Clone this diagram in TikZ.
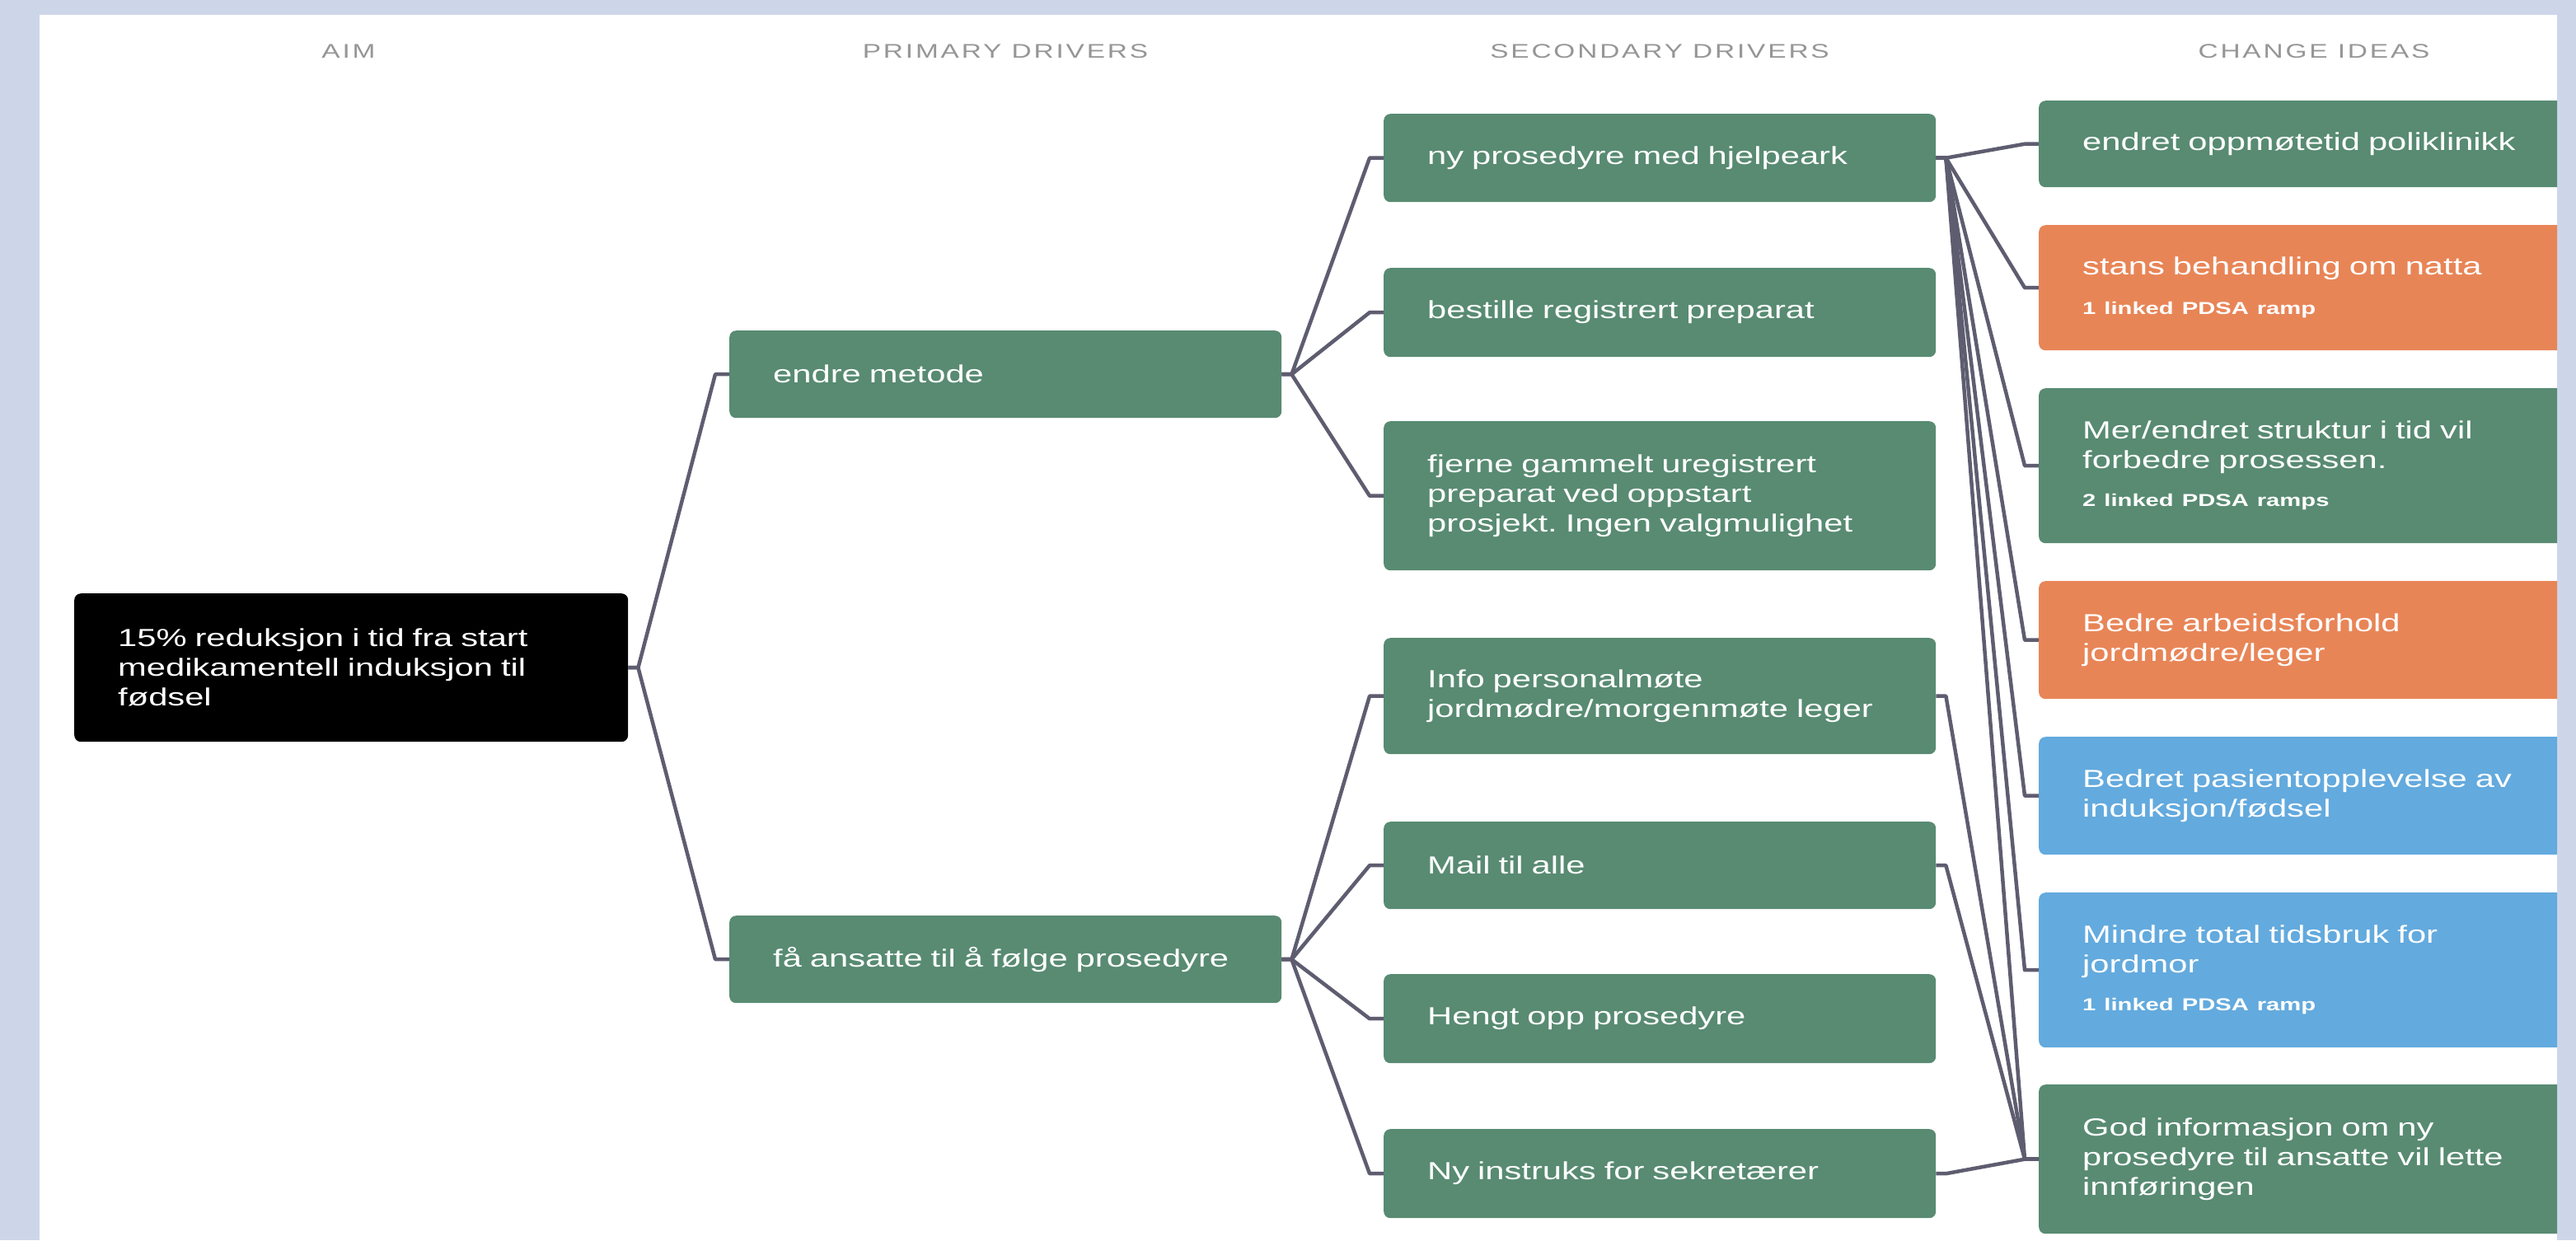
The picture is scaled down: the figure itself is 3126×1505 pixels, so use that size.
\documentclass[tikz,border=0pt]{standalone}
\usepackage{fontspec}
\setmainfont{Liberation Sans}[FakeStretch=1.39]
\newfontfamily\hdrfont{Liberation Sans}[FakeStretch=1.39,LetterSpace=12]
\definecolor{bgc}{RGB}{205,214,233}
\definecolor{grn}{RGB}{88,139,114}
\definecolor{org}{RGB}{232,133,87}
\definecolor{blu}{RGB}{99,170,222}
\definecolor{lin}{RGB}{94,93,112}
\definecolor{hdr}{RGB}{150,150,150}
\frenchspacing
\newcommand\mainsz{\fontsize{30}{36}\selectfont}
\newcommand\subsz{\fontsize{21}{25}\selectfont\bfseries}
\newcommand\hdrsz{\hdrfont\fontsize{24}{28}\selectfont}
\begin{document}
\begin{tikzpicture}[x=1pt,y=-1pt,
  box/.style={rounded corners=8pt, inner xsep=53pt, inner ysep=0pt,
    text width=564pt, minimum width=670pt, anchor=north west,
    align=left, text=white, font=\mainsz},
  gbox/.style={box, fill=grn},
  obox/.style={box, fill=org},
  bbox/.style={box, fill=blu},
  hdrtext/.style={anchor=base, text=hdr, font=\hdrsz, inner sep=0pt},
  conn/.style={draw=lin, line width=4.5pt, line join=round,
    to path={-- ++(12pt,0) -- ([xshift=-17pt]\tikztotarget.west) -- (\tikztotarget.west)}}
]
\useasboundingbox (0,0) rectangle (3126,1505);
\fill[bgc] (0,0) rectangle (3126,1505);
\fill[white] (48,18) rectangle (3103,1505);
\begin{scope}
\clip (48,18) rectangle (3103,1505);
% headers
\node[hdrtext] (h1) at (423,70) {AIM};
\node[hdrtext] (h2) at (1220,70) {PRIMARY DRIVERS};
\node[hdrtext] (h3) at (2014,70) {SECONDARY DRIVERS};
\node[hdrtext] (h4) at (2808,70) {CHANGE IDEAS};
% aim
\node[box, fill=black, minimum width=672pt, text width=566pt, minimum height=180pt] (aim) at (90,720)
  {15\% reduksjon i tid fra start\\medikamentell induksjon til\\fødsel};
% primary
\node[gbox, minimum height=106pt] (p1) at (885,401) {endre metode};
\node[gbox, minimum height=106pt] (p2) at (885,1111) {få ansatte til å følge prosedyre};
% secondary
\node[gbox, minimum height=107pt] (s1) at (1679,138) {ny prosedyre med hjelpeark};
\node[gbox, minimum height=108pt] (s2) at (1679,325) {bestille registrert preparat};
\node[gbox, minimum height=181pt] (s3) at (1679,511) {fjerne gammelt uregistrert\\preparat ved oppstart\\prosjekt. Ingen valgmulighet};
\node[gbox, minimum height=141pt] (s4) at (1679,774) {Info personalmøte\\jordmødre/morgenmøte leger};
\node[gbox, minimum height=106pt] (s5) at (1679,997) {Mail til alle};
\node[gbox, minimum height=108pt] (s6) at (1679,1182) {Hengt opp prosedyre};
\node[gbox, minimum height=108pt] (s7) at (1679,1370) {Ny instruks for sekretærer};
% change ideas
\node[gbox, minimum height=105pt] (c1) at (2474,122) {endret oppmøtetid poliklinikk};
\node[obox, minimum height=152pt] (c2) at (2474,273) {stans behandling om natta\\[12pt]{\subsz 1 linked PDSA ramp}};
\node[gbox, minimum height=188pt] (c3) at (2474,471) {Mer/endret struktur i tid vil\\forbedre prosessen.\\[10pt]{\subsz 2 linked PDSA ramps}};
\node[obox, minimum height=143pt] (c4) at (2474,705) {Bedre arbeidsforhold\\jordmødre/leger};
\node[bbox, minimum height=143pt] (c5) at (2474,894) {Bedret pasientopplevelse av\\induksjon/fødsel};
\node[bbox, minimum height=188pt] (c6) at (2474,1083) {Mindre total tidsbruk for\\jordmor\\[10pt]{\subsz 1 linked PDSA ramp}};
\node[gbox, minimum height=181pt] (c7) at (2474,1316) {God informasjon om ny\\prosedyre til ansatte vil lette\\innføringen};
% connectors
\draw[conn] (aim.east) to (p1);
\draw[conn] (aim.east) to (p2);
\foreach \t in {s1,s2,s3} \draw[conn] (p1.east) to (\t);
\foreach \t in {s4,s5,s6,s7} \draw[conn] (p2.east) to (\t);
\foreach \t in {c1,c2,c3,c4,c5,c6,c7} \draw[conn] (s1.east) to (\t);
\draw[conn] (s4.east) to (c7);
\draw[conn] (s5.east) to (c7);
\draw[conn] (s7.east) to (c7);
\end{scope}
\end{tikzpicture}
\end{document}
